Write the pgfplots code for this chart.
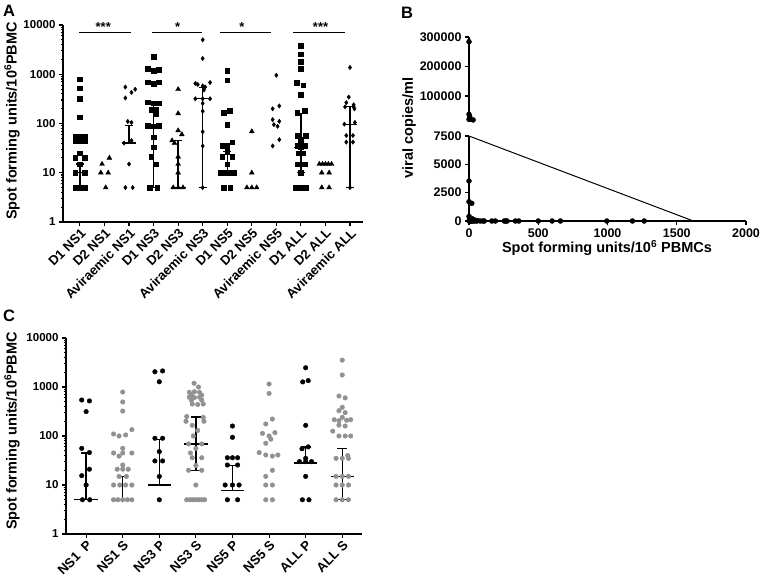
\documentclass[border=0pt]{standalone}
\usepackage{fontspec}
\setmainfont{Liberation Sans}
\usepackage{pgfplots}
\pgfplotsset{compat=1.18}
\definecolor{gdot}{RGB}{145,145,145}
\newcommand{\tf}{\bfseries\fontsize{11.5}{13}\selectfont}
\newcommand{\starf}{\bfseries\fontsize{13}{14}\selectfont}
\newcommand{\cf}{\bfseries\fontsize{13.2}{15}\selectfont}
\newcommand{\lf}{\bfseries\fontsize{14.5}{17}\selectfont}
\pgfplotsset{
 gp/.style={scale only axis, anchor=south west, clip=false,
  axis x line*=bottom, axis y line*=left,
  axis line style={-, line width=1.3pt, black},
  tick style={line width=1.1pt, black}, tick align=outside,
  major tick length=4pt, minor tick length=2.5pt,
  scaled ticks=false,
  tick label style={font=\tf}},
 eb/.style={black, line width=1.3pt, no markers, forget plot},
 sq/.style={only marks, mark=square*, mark size=2.3pt, black},
 tri/.style={only marks, mark=triangle*, mark size=2.8pt, black},
 dia/.style={only marks, mark=diamond*, mark size=2.2pt, black},
 bdot/.style={only marks, mark=*, mark size=2.3pt, black},
 gdotst/.style={only marks, mark=*, mark size=2.3pt, gdot, mark options={draw=gdot, fill=gdot}},
}
\begin{document}
\begin{tikzpicture}
\useasboundingbox (0,0) rectangle (760pt,-587pt);
% ---------------- Panel A
\begin{axis}[gp, at={(63pt,-222pt)}, width=300pt, height=197pt,
 ymode=log, ymin=1, ymax=10000, xmin=-0.69, xmax=11.53,
 xtick={0,...,11},
 xticklabels={D1 NS1, D2 NS1, Aviraemic NS1, D1 NS3, D2 NS3, Aviraemic NS3, D1 NS5, D2 NS5, Aviraemic NS5, D1 ALL, D2 ALL, Aviraemic ALL},
 x tick label style={rotate=45, anchor=north east, font=\cf, inner sep=1pt},
 ytick={1,10,100,1000,10000}, yticklabels={1,10,100,1000,10000},
 minor ytick={2,3,4,5,6,7,8,9,20,30,40,50,60,70,80,90,200,300,400,500,600,700,800,900,2000,3000,4000,5000,6000,7000,8000,9000}]
% error bars
\addplot[eb] coordinates {(0,5) (0,15)};
\addplot[eb] coordinates {(-0.17,15) (0.17,15)};
\addplot[eb] coordinates {(-0.17,5) (0.17,5)};
\addplot[eb] coordinates {(-0.3,10) (0.3,10)};
\addplot[eb] coordinates {(2,40) (2,91)};
\addplot[eb] coordinates {(1.83,91) (2.17,91)};
\addplot[eb] coordinates {(1.7,40) (2.3,40)};
\addplot[eb] coordinates {(3,5) (3,260)};
\addplot[eb] coordinates {(2.83,260) (3.17,260)};
\addplot[eb] coordinates {(2.83,5) (3.17,5)};
\addplot[eb] coordinates {(2.7,88) (3.3,88)};
\addplot[eb] coordinates {(4,5) (4,45)};
\addplot[eb] coordinates {(3.83,45) (4.17,45)};
\addplot[eb] coordinates {(3.7,5) (4.3,5)};
\addplot[eb] coordinates {(5,5) (5,534)};
\addplot[eb] coordinates {(4.83,534) (5.17,534)};
\addplot[eb] coordinates {(4.83,5) (5.17,5)};
\addplot[eb] coordinates {(4.7,318) (5.3,318)};
\addplot[eb] coordinates {(6,10) (6,27)};
\addplot[eb] coordinates {(5.83,27) (6.17,27)};
\addplot[eb] coordinates {(5.7,10) (6.3,10)};
\addplot[eb] coordinates {(9,10) (9,160)};
\addplot[eb] coordinates {(8.83,160) (9.17,160)};
\addplot[eb] coordinates {(8.83,10) (9.17,10)};
\addplot[eb] coordinates {(8.7,33) (9.3,33)};
\addplot[eb] coordinates {(9.7,15) (10.3,15)};
\addplot[eb] coordinates {(11,5) (11,218)};
\addplot[eb] coordinates {(10.83,218) (11.17,218)};
\addplot[eb] coordinates {(10.83,5) (11.17,5)};
\addplot[eb] coordinates {(10.7,97) (11.3,97)};
% significance lines
\addplot[eb, line width=1.1pt] coordinates {(-0.03,7000) (2.07,7000)};
\addplot[eb, line width=1.1pt] coordinates {(2.92,7000) (4.96,7000)};
\addplot[eb, line width=1.1pt] coordinates {(5.7,7000) (7.78,7000)};
\addplot[eb, line width=1.1pt] coordinates {(8.69,7000) (10.79,7000)};
\node[anchor=south, inner sep=0.5pt, font=\starf] at (axis cs:0.95,7000) {***};
\node[anchor=south, inner sep=0.5pt, font=\starf] at (axis cs:3.98,7000) {*};
\node[anchor=south, inner sep=0.5pt, font=\starf] at (axis cs:6.6,7000) {*};
\node[anchor=south, inner sep=0.5pt, font=\starf] at (axis cs:9.8,7000) {***};
% D1 squares
\addplot[sq] coordinates {(0,800) (0,520) (0,320) (0,135) (-0.2,55) (0,55) (0.2,55) (-0.2,45) (0,45) (0.2,45) (0,25) (-0.2,20) (0.2,20) (0,15) (-0.2,10) (0.2,10) (-0.2,5) (0,5) (0.2,5)};
\addplot[sq] coordinates {(3,2250) (2.75,1300) (3,1170) (3.2,1250) (2.75,690) (3,650) (3.2,690) (2.75,270) (3,260) (3.2,260) (2.9,193) (3.1,193) (3.1,160) (2.75,90) (3,88) (3.2,90) (3,53) (3,33) (2.9,21) (3.1,15) (2.85,5) (3.15,5)};
\addplot[sq] coordinates {(6,1170) (6,754) (5.85,165) (6.1,184) (6,95) (5.8,35) (6,35) (6.2,42) (5.8,21) (6.2,21) (6,27) (6,15) (5.73,10) (5.9,10) (6.08,10) (6.26,10) (5.85,5) (6.12,5)};
\addplot[sq] coordinates {(9,3780) (9,2560) (9,1780) (9,1306) (8.83,676) (9.1,597) (9,390) (8.85,165) (9.15,184) (8.85,57) (9.2,57) (9,47) (8.85,35) (9.15,35) (9,33) (8.9,25) (9.1,25) (8.85,15) (9.15,15) (9,10) (8.8,5) (9,5) (9.2,5)};
% D2 triangles
\addplot[tri] coordinates {(0.9,15) (1.2,20) (0.85,10) (1.15,10) (1.05,5)};
\addplot[tri] coordinates {(4,495) (4,160) (4,72) (4.15,60) (3.75,45) (3.85,40) (4,21) (4,15) (4,10) (3.8,5) (4,5) (4.2,5)};
\addplot[tri] coordinates {(7,69) (7,10) (6.8,5) (7,5) (7.2,5)};
\addplot[tri] coordinates {(9.75,15) (9.88,15) (10,15) (10.12,15) (10.25,15) (9.85,10) (10.15,10) (9.85,5) (10.15,5)};
% Aviraemic diamonds
\addplot[dia] coordinates {(1.85,550) (2.25,495) (2.1,430) (1.85,330) (1.95,110) (2.1,105) (2.1,45) (1.8,40) (2,15) (1.85,5) (2.15,5)};
\addplot[dia] coordinates {(5,5000) (5,2090) (4.7,650) (4.8,620) (5,580) (5.1,550) (5.3,680) (5.05,480) (4.7,318) (5.3,318) (5,318) (5,257) (5,178) (5,68) (5,35) (5,5)};
\addplot[dia] coordinates {(8,955) (7.85,199) (8.12,227) (7.85,120) (8.12,111) (7.9,95) (8.05,88) (8.12,47) (7.85,35)};
\addplot[dia] coordinates {(11,1370) (10.95,344) (10.85,265) (11.15,240) (10.8,218) (11.15,218) (11.18,199) (11.2,105) (10.77,97) (10.85,57) (11.12,57) (10.85,42) (11.12,42) (11,5)};
\end{axis}
\node[rotate=90, font=\lf] at (12pt,-121pt) {Spot forming units/10\textsuperscript{6}PBMC};
\node[font=\bfseries\fontsize{16.5}{18}\selectfont] at (9pt,-11pt) {A};
% ---------------- Panel B (lower)
\begin{axis}[gp, at={(469pt,-221pt)}, width=277pt, height=85pt,
 xmin=0, xmax=2000, ymin=0, ymax=7500,
 xtick={0,500,1000,1500,2000}, xticklabels={0,500,1000,1500,2000},
 ytick={0,2500,5000,7500}, yticklabels={0,2500,5000,7500},
 tick label style={font=\bfseries\fontsize{12.5}{14}\selectfont}]
\addplot[eb, line width=1pt] coordinates {(0,7500) (1620,0)};
\addplot[only marks, mark=*, mark size=2.5pt, black] coordinates {(0,3530) (0,1700) (20,1560) (0,400) (5,300) (10,250) (20,200) (30,150) (15,100) (40,80) (50,50) (60,30) (0,0) (5,0) (10,0) (15,0) (20,0) (30,0) (40,0) (55,0) (80,0) (100,0) (110,0) (165,0) (190,0) (255,0) (265,0) (275,0) (335,0) (360,0) (500,0) (600,0) (660,0) (995,0) (1180,0) (1265,0)};
\end{axis}
% ---------------- Panel B (upper)
\begin{axis}[gp, at={(469pt,-122pt)}, width=277pt, height=85pt,
 axis x line=none,
 xmin=0, xmax=2000, ymin=12000, ymax=300000,
 ytick={100000,200000,300000}, yticklabels={100000,200000,300000},
 tick label style={font=\bfseries\fontsize{12.5}{14}\selectfont}]
\addplot[only marks, mark=*, mark size=2.5pt, black] coordinates {(0,284000) (0,38000) (5,30000) (0,21000) (8,21000) (30,19000)};
\end{axis}
\node[rotate=90, font=\lf] at (409pt,-128pt) {viral copies/ml};
\node[font=\lf] at (607pt,-248pt) {Spot forming units/10\textsuperscript{6} PBMCs};
\node[font=\bfseries\fontsize{16.5}{18}\selectfont] at (407pt,-13pt) {B};
% ---------------- Panel C
\begin{axis}[gp, at={(66pt,-534pt)}, width=296pt, height=196pt,
 ymode=log, ymin=1, ymax=10000, xmin=-0.55, xmax=7.54,
 xtick={0,...,7},
 xticklabels={NS1\ \ P, NS1 S, NS3 P, NS3 S, NS5 P, NS5 S, ALL P, ALL S},
 x tick label style={rotate=45, anchor=north east, font=\cf, inner sep=1pt},
 ytick={1,10,100,1000,10000}, yticklabels={1,10,100,1000,10000},
 minor ytick={2,3,4,5,6,7,8,9,20,30,40,50,60,70,80,90,200,300,400,500,600,700,800,900,2000,3000,4000,5000,6000,7000,8000,9000}]
\addplot[eb] coordinates {(0,5) (0,45)};
\addplot[eb] coordinates {(-0.14,45) (0.14,45)};
\addplot[eb] coordinates {(-0.32,5) (0.32,5)};
\addplot[eb] coordinates {(1,5) (1,15)};
\addplot[eb] coordinates {(0.86,15) (1.14,15)};
\addplot[eb] coordinates {(0.68,5) (1.32,5)};
\addplot[eb] coordinates {(2,10) (2,85)};
\addplot[eb] coordinates {(1.86,85) (2.14,85)};
\addplot[eb] coordinates {(1.68,10) (2.32,10)};
\addplot[eb] coordinates {(3,20) (3,246)};
\addplot[eb] coordinates {(2.86,246) (3.14,246)};
\addplot[eb] coordinates {(2.86,20) (3.14,20)};
\addplot[eb] coordinates {(2.68,69) (3.32,69)};
\addplot[eb] coordinates {(4,7.7) (4,25)};
\addplot[eb] coordinates {(3.86,25) (4.14,25)};
\addplot[eb] coordinates {(3.68,7.7) (4.32,7.7)};
\addplot[eb] coordinates {(6,28) (6,60)};
\addplot[eb] coordinates {(5.86,60) (6.14,60)};
\addplot[eb] coordinates {(5.68,28) (6.32,28)};
\addplot[eb] coordinates {(7,5) (7,56)};
\addplot[eb] coordinates {(6.86,56) (7.14,56)};
\addplot[eb] coordinates {(6.86,5) (7.14,5)};
\addplot[eb] coordinates {(6.68,15) (7.32,15)};
% P (black)
\addplot[bdot] coordinates {(-0.12,543) (0.09,520) (0,315) (-0.12,56) (0.09,46) (0.09,21) (-0.12,15.5) (0,10) (-0.1,5) (0.1,5)};
\addplot[bdot] coordinates {(1.88,2050) (2.09,2130) (2,1280) (1.88,90) (2.09,90) (2,48) (1.88,31) (2.09,31) (2,15) (2,5)};
\addplot[bdot] coordinates {(4,160) (4,94) (3.86,36) (4,36) (4.14,36) (3.86,25.6) (4.14,25.6) (3.8,10) (4,10) (4.18,10) (3.86,5) (4.14,5)};
\addplot[bdot] coordinates {(6,2470) (5.92,1270) (6.07,1350) (6,165) (5.9,55) (6.07,60) (6,35) (5.83,30) (6,30) (6.16,30) (6,15) (5.91,5) (6.09,5)};
% S (grey)
\addplot[gdotst] coordinates {(1,790) (1,495) (1,323) (1.25,135) (0.75,110) (0.9,100) (1.08,105) (1,56) (0.75,45) (1,45) (1.25,45) (0.9,39) (1,25.6) (0.85,21) (1,21) (1.15,21) (0.9,15) (1.1,15) (0.75,10) (0.92,10) (1.08,10) (1.25,10) (0.75,5) (0.87,5) (1,5) (1.13,5) (1.25,5)};
\addplot[gdotst] coordinates {(2.95,1190) (3.07,1000) (2.82,780) (2.96,800) (3.1,780) (2.88,690) (3.16,680) (2.82,620) (2.96,610) (3.1,620) (2.88,540) (3.16,540) (2.9,450) (3.05,440) (3.2,450) (2.75,250) (3.2,240) (2.73,200) (3.22,200) (2.9,165) (3.05,130) (2.93,100) (2.8,69) (3.16,69) (3,56) (2.85,45) (2.9,36) (3.16,36) (3.0,25) (2.8,20) (3.16,20) (3,10) (2.75,5) (2.84,5) (2.92,5) (3,5) (3.08,5) (3.16,5) (3.24,5)};
\addplot[gdotst] coordinates {(5,1150) (5,740) (5.09,222) (4.91,176) (5.16,117) (4.82,113) (5,100) (5.05,86) (4.91,71) (4.73,46) (4.91,41) (5.09,39) (5.24,41) (5.09,20) (4.91,15) (4.91,10) (5.09,10) (4.91,5) (5.09,5)};
\addplot[gdotst] coordinates {(7,3540) (7,1760) (6.91,655) (7.08,600) (7,385) (6.91,328) (7.08,300) (6.78,215) (6.91,205) (7,240) (7.12,210) (7.23,215) (6.74,126) (6.91,167) (7.08,160) (6.91,100) (7.08,100) (7.23,100) (6.83,35) (7,35) (7.17,35) (7.15,40) (6.83,15) (7,15) (7.17,15) (6.83,10) (7,10) (7.17,10) (6.83,5) (7,5) (7.17,5)};
\end{axis}
\node[rotate=90, font=\lf] at (12pt,-431pt) {Spot forming units/10\textsuperscript{6}PBMC};
\node[font=\bfseries\fontsize{16.5}{18}\selectfont] at (9pt,-316pt) {C};
\end{tikzpicture}
\end{document}
